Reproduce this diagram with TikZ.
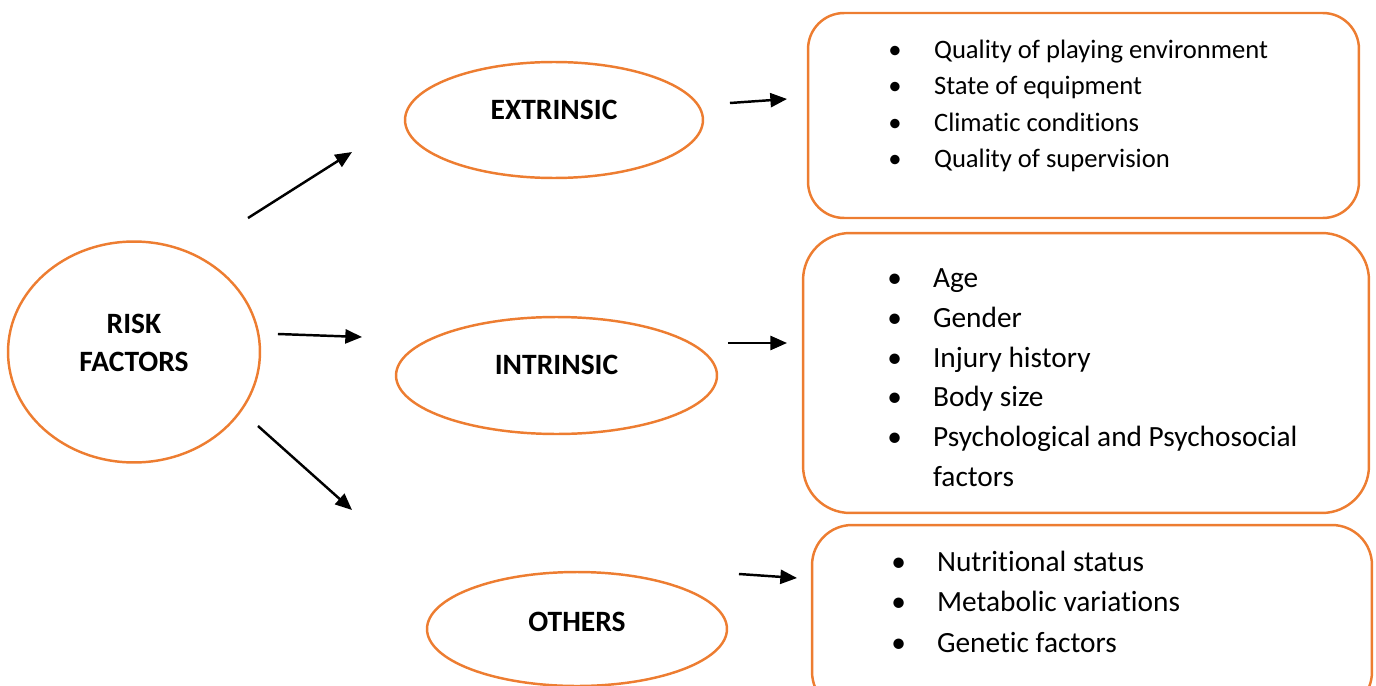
\documentclass[tikz,border=0pt]{standalone}
\usepackage{fontspec}
\setmainfont[Ligatures={NoCommon,NoContextual}]{Carlito}
\usetikzlibrary{
  arrows.meta,
  shapes.geometric
}
\tikzset{>={Triangle[length=9.5pt,width=8pt]}}
\definecolor{ringorange}{HTML}{ED7D31}
\newcommand\bul{\strut\makebox[26pt][l]{\textbullet}}

\begin{document}
\begin{tikzpicture}[x=0.02cm,y=-0.02cm,
  oval/.style={ellipse,draw=ringorange,line width=1.4pt,inner sep=0pt,outer sep=0pt},
  card/.style={rectangle,draw=ringorange,line width=1.4pt,inner sep=0pt,outer sep=0pt},
  ovaltext/.style={font=\fontsize{16.8}{21.5}\selectfont\bfseries,inner sep=0pt,align=center},
  itemlist/.style={anchor=north west,inner sep=0pt,align=left},
  arrowline/.style={->,line width=1.4pt}]
\useasboundingbox (0,0) rectangle (1376,686);
\clip (0,0) rectangle (1376,686);
% ovals
\node[oval,minimum width=5.04cm,minimum height=4.42cm,label={[ovaltext,yshift=0.18cm]center:RISK\\FACTORS}] (risk) at (134,352) {};
\node[oval,minimum width=5.96cm,minimum height=2.32cm,label={[ovaltext,yshift=0.2cm]center:EXTRINSIC}] (ext) at (554,120) {};
\node[oval,minimum width=6.42cm,minimum height=2.34cm,label={[ovaltext,yshift=0.21cm]center:INTRINSIC}] (int) at (556.5,375.5) {};
\node[oval,minimum width=6cm,minimum height=2.28cm,label={[ovaltext,yshift=0.14cm]center:OTHERS}] (oth) at (577,629) {};
% boxes
\node[card,rounded corners=0.72cm,minimum width=11.02cm,minimum height=4.1cm] (box1) at (1083.5,115.5) {};
\node[card,rounded corners=0.94cm,minimum width=11.32cm,minimum height=5.6cm] (box2) at (1086,373) {};
\node[card,rounded corners=0.8cm,minimum width=11.2cm,minimum height=3.74cm] (box3) at (1092,618.5) {};
\node[itemlist,font=\fontsize{15.15}{20.8}\selectfont] (extlist) at ([shift={(80,19.3)}]box1.north west)
  {\bul Quality of playing environment\\ \bul State of equipment\\ \bul Climatic conditions\\ \bul Quality of supervision};
\node[itemlist,font=\fontsize{16.7}{22.7}\selectfont] (intlist) at ([shift={(84,26)}]box2.north west)
  {\bul Age\\ \bul Gender\\ \bul Injury history\\ \bul Body size\\ \bul Psychological and Psychosocial\\ \strut\hspace*{26pt}factors};
\node[itemlist,font=\fontsize{16.7}{23}\selectfont] (othlist) at ([shift={(79,17.6)}]box3.north west)
  {\bul Nutritional status\\ \bul Metabolic variations\\ \bul Genetic factors};
% arrows
\draw[arrowline] ([shift={(114,-23.5)}]risk.north) -- ([shift={(-53,32)}]ext.west);
\draw[arrowline] ([shift={(18,-18)}]risk.east) -- ([shift={(-34,-38.5)}]int.west);
\draw[arrowline] ([shift={(-2,74)}]risk.east) -- ([shift={(-75,-119)}]oth.west);
\draw[arrowline] ([shift={(27,-17)}]ext.east) -- ([shift={(-21,-16.5)}]box1.west);
\draw[arrowline] ([shift={(11,-32.5)}]int.east) -- ([shift={(-16,-30)}]box2.west);
\draw[arrowline] ([shift={(12,-55)}]oth.east) -- ([shift={(-15,-40.5)}]box3.west);
\end{tikzpicture}
\end{document}
